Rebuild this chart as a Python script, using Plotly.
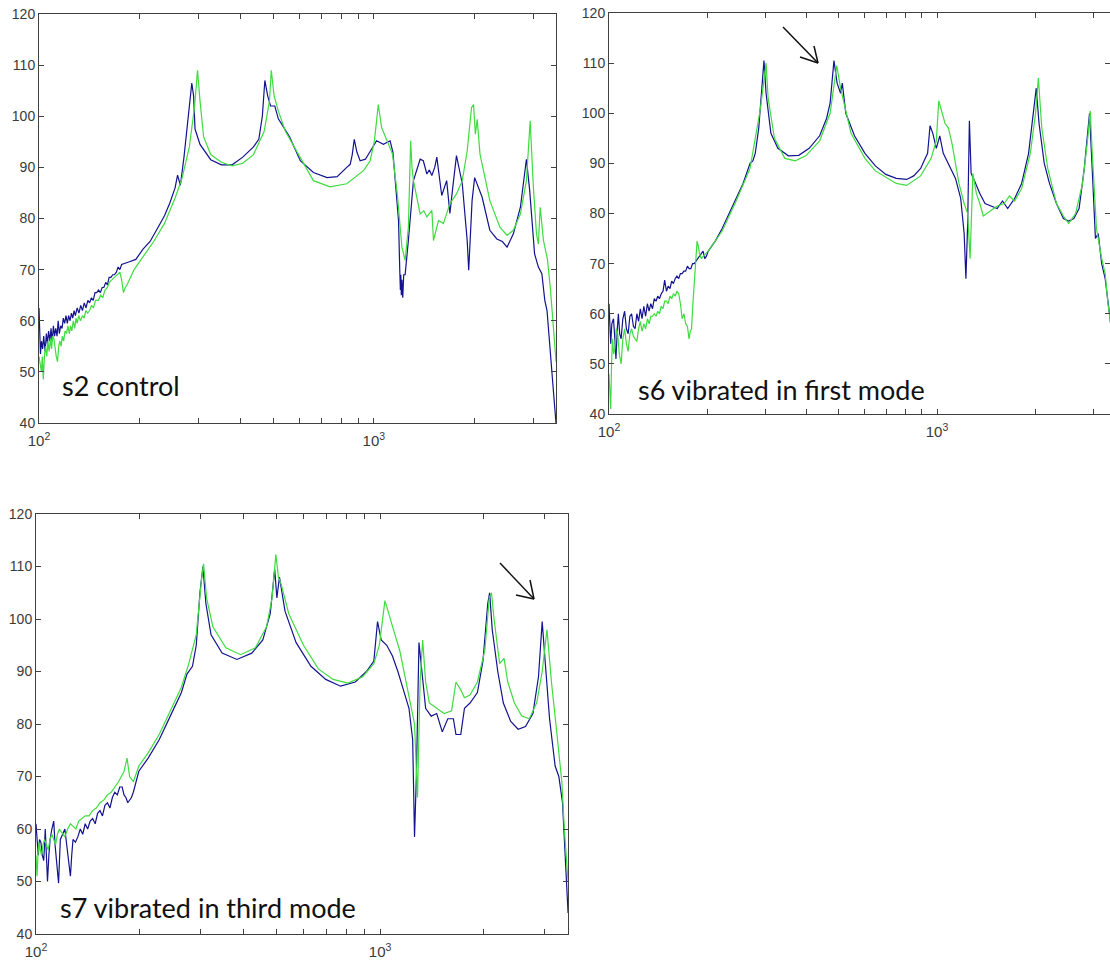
import plotly.graph_objects as go

# ---------------- data (frequency Hz, level dB) ----------------
# s2 control
a_blue_f = [100, 100.5, 101, 101.7, 102.5, 103.3, 104.3, 105.2, 106, 106.8, 107.8, 108.6, 109.5, 110.4,
            111.3, 112.2, 113.2, 114.1, 115, 116.1, 117.2, 118.2, 119.3, 120.4, 121.5, 122.6, 123.8, 125,
            126.1, 127.3, 128.4, 130, 131.6, 133.2, 134.8, 136.5, 138.2, 139.9, 141.6, 143.4, 145.2, 147,
            148.7, 150.6, 152.5, 154.4, 156.2, 158.2, 160.1, 162, 164, 166, 168, 170.2, 172.3, 174.4,
            176.5, 185.4, 194.6, 204.5, 214.7, 225.5, 236.8, 245.7, 254.9, 259.3,
            264.4, 271, 277.7, 282.5, 286, 289.5, 292.4, 302.6, 325.7, 350.5, 377.3, 406.1, 437, 453.4,
            464.5, 472.6, 481.9, 491.5, 506, 518.6, 560, 603, 660, 725, 777, 830, 850, 862, 874, 890, 910,
            944, 975, 1019, 1068, 1118, 1140, 1160, 1185, 1195, 1200, 1204, 1208, 1213, 1220, 1228, 1240,
            1268, 1313, 1375, 1405, 1440, 1465, 1490, 1520, 1542, 1595, 1650, 1687, 1720, 1765, 1837,
            1900, 1920, 1965, 2000, 2105, 2220, 2330, 2420, 2500, 2610, 2740, 2855, 2920, 3020, 3100,
            3175, 3240, 3290, 3375, 3450, 3500]
a_blue_db = [62.5, 55, 53.5, 56, 54.5, 57, 54, 57.5, 55.5, 58, 56, 58.5, 56, 59,
             57, 58.5, 57, 60, 57.5, 59, 58.5, 60.5, 59.5, 61, 59.5, 61, 60, 61.5,
             60.5, 62, 61, 62.5, 61.5, 63, 62, 63.5, 62.5, 64, 63.5, 64.5, 64, 65.5,
             65.5, 66, 65.5, 66.5, 66.5, 67.5, 67, 68.5, 68.5, 69, 69, 69.5, 70.5, 70,
             71, 71.5, 72, 74, 75.5, 78, 80.5, 83, 86, 88.5,
             86.5, 92, 99, 104, 106.5, 104, 97.5, 94.5, 91.5, 90.5, 90.5, 92, 94, 95.5,
             100, 107, 104, 102, 102, 99.5, 96, 91.3, 89, 88, 88.2, 90, 90.6, 92.5, 95.5, 93, 91.3,
             91.6, 93.2, 95.2, 94.5, 95.2, 93, 87.4, 79.6, 70, 66, 69, 65, 68, 64.5, 69, 69,
             75.7, 87.4, 91.6, 91.3, 88.7, 89.5, 88.4, 90, 92, 84.5, 87.4, 81, 86, 92.3, 86.8,
             75.7, 69.9, 83.5, 88, 84.2, 77.7, 76, 75.5, 74.4, 77, 82.2, 91.6, 85.5, 73.1, 70.5,
             69.2, 64, 62, 52, 45, 40]
a_green_f = [100, 100.8, 101.7, 102.3, 103, 103.8, 104.6, 105.5, 106.3, 107.2, 108.2, 109, 109.9, 110.8,
             111.7, 112.6, 113.6, 114.5, 115.4, 116.4, 117.4, 118.5, 119.6, 120.8, 122, 123.2, 124.3,
             125.3, 126.6, 127.8, 129, 130, 131.5, 133, 134.8, 136.4, 138, 139.8, 141.6, 143.5, 145.5,
             147.5, 150.5, 152.8, 155, 157.4, 160, 162.2, 165, 168.1, 171, 174.4, 176.5, 178.7, 181,
             183.1, 192.3, 204.5, 220, 236.8, 254.9, 267.7, 281.2, 291.6,
             297.4, 302.6, 310.1, 325.7, 350.5, 377.3, 406.1, 437, 470.2, 487.9, 493.9, 503.7, 518.6,
             544.8, 585, 603, 660, 740, 830, 933, 975, 1004, 1031, 1055, 1095, 1137, 1175, 1213, 1240,
             1268, 1288, 1300, 1313, 1375, 1410, 1440, 1490, 1507, 1560, 1613, 1687, 1765, 1837, 1900,
             1958, 1985, 2010, 2035, 2075, 2220, 2380, 2500, 2610, 2740, 2855, 2930, 2995, 3060, 3100,
             3140, 3210, 3300, 3370, 3450, 3500]
a_green_db = [53, 51, 50, 53, 48.5, 53, 55, 53, 56, 54, 56.5, 54.5, 57, 56.5,
              54, 53, 52, 55, 56, 55, 57, 56, 58, 57.5, 59, 57.5, 59,
              58, 60, 58.5, 60.5, 59.5, 61, 60, 61, 60.5, 62, 61.5, 62, 63, 62.5,
              64, 64, 65, 64.5, 66, 66.5, 67.5, 68, 68.5, 69, 69.5, 68, 65.5, 66.5,
              67, 70, 72.5, 75.5, 79, 84, 88, 94, 102,
              109, 103, 96, 92.5, 91, 90.3, 90.8, 92.5, 97, 103, 109, 104, 101,
              97, 93.5, 92, 87.4, 86.2, 86.8, 89.4, 91.3, 95.2, 102.3, 97.8, 95.2, 92.6, 84.8, 74.4, 71.8,
              78.3, 95.2, 90, 87.4, 80.9, 81.5, 80.3, 81.6, 75.7, 79.6, 79, 82.9, 84.8, 87.4, 93.2,
              101.7, 102.3, 96.5, 99.4, 92.6, 83.5, 78.3, 76.7, 77.7, 80.9, 87.4, 99.1, 86.1, 77, 75,
              82.2, 75.7, 72, 66, 58, 52]

# s6 vibrated in first mode
b_blue_f = [100, 100.6, 101.2, 102, 103.2, 104.2, 105, 106, 106.8, 107.8, 108.9, 110.2, 111.6, 113,
            114.4, 115.8, 117.2, 118.7, 120.1, 121.6, 123.1, 124.6, 126.1, 127.7, 129.3, 130.9, 132.5,
            134.1, 135.7, 137.4, 139.1, 140.8, 142.5, 144.3, 146.1, 147.8, 149.7, 151.5, 153.4, 155.3,
            157.2, 159.1, 161.1, 163.1, 165.1, 167.1, 169.1, 171.3, 173.4, 175.5, 177.6, 179.8, 182,
            184.2, 186.5, 188.8, 191.1, 193.5, 195.8, 198.2, 200.7, 210.8, 221.3, 232.4,
            244.1, 256.3, 269.2, 274.5, 279.2, 286.1, 293.2, 296.8, 301.2, 305.6, 311.6, 327.3, 352.2,
            378.9, 407.7, 438.8, 460.8, 472.2, 485.1, 495.9, 508.2, 514.4, 527.2, 560.3, 603, 648.8,
            698.3, 751.2, 808.3, 849, 891.5, 913.5, 936.2, 952.3, 971.1, 995.2, 1019.8, 1045, 1084,
            1138.5, 1181, 1210, 1225, 1240.2, 1255.3, 1270.7, 1302, 1350.7, 1401, 1453.4, 1526.4,
            1583.4, 1642.5, 1725, 1811.4, 1902, 1973.1, 2007, 2046.6, 2123.2, 2202.6, 2312.8, 2429.1,
            2519.7, 2613.7, 2711.1, 2812.3, 2882, 2917.4, 2967.5, 3041, 3101.1, 3177.7, 3256.5, 3320.9,
            3400, 3500]
b_blue_db = [62, 57, 54, 58, 59, 55, 51, 57, 60, 56, 55, 59, 60.5, 57,
             56, 59.5, 60, 57.5, 57, 60, 58.5, 61, 59, 61.5, 59.5, 62, 60.5,
             62, 61, 63, 62.5, 63.5, 63, 64, 64.5, 66.7, 64.5, 65.5, 65, 66.5,
             66, 67, 67.5, 67, 68, 68, 68.5, 68.5, 69.5, 69, 69, 70, 70,
             70.5, 71, 71.5, 72, 72.5, 71, 71.5, 72.5, 74.5, 77, 80,
             83, 86, 90, 90.5, 92, 97, 106, 110.5, 104, 100, 96, 93, 91.5,
             91.6, 93, 95.5, 99, 102, 110.5, 106, 104, 106, 100, 95.5, 92, 89.5,
             87.8, 87, 86.8, 87.5, 89, 90.5, 92, 97.5, 96, 93, 95.5, 92, 90,
             87, 83, 76, 67, 78, 98.5, 88, 86.5, 84, 82, 81.5, 81,
             82.5, 81, 83, 86, 92, 101, 105, 98, 90, 86, 82, 79,
             78.5, 79, 81, 89, 96, 100, 90, 75, 76, 70, 67, 62,
             57, 52]
b_green_f = [100, 100.6, 101.2, 101.8, 102.5, 103.3, 104.2, 105.2, 106.3, 107.5, 108.9, 110.2, 111.6,
             113, 114.4, 115.8, 117.2, 118.7, 120.1, 121.6, 123.1, 124.6, 126.1, 127.7, 129.3, 131,
             132.6, 134.1, 135.7, 137.4, 139.1, 140.8, 142.5, 144.3, 146.1, 147.8, 149.7, 151.5, 153.4,
             155.3, 157.2, 159.1, 161.1, 163.1, 165.1, 167.1, 169.2, 171.3, 173.4, 175.4, 176.9, 178.5,
             180.2, 182, 183.8, 185.6, 187.2, 188.8, 191, 193.5, 197, 200.7,
             221.3, 244.1, 269.2, 289.6, 301.2, 305.6, 319.4, 343.6, 369.8, 397.9, 438.8, 472.2, 494.7,
             508.2, 546.8, 603, 648.8, 751.2, 808.3, 891.5, 959.4, 995.2, 1012.3, 1032.3, 1057.8, 1084,
             1110.8, 1166.6, 1210, 1240.2, 1261.6, 1286.5, 1318.3, 1350.7, 1384, 1453.4, 1526.4, 1602.9,
             1662.7, 1725, 1811.4, 1925.5, 1997.4, 2037.1, 2087.3, 2175.8, 2312.8, 2429.1, 2519.7,
             2645.8, 2778, 2882, 2931.7, 2975, 3063.6, 3177.7, 3256.5, 3320.9, 3400, 3500]
b_green_db = [48, 45, 41, 50, 55, 52, 53, 57, 56, 52, 50, 55, 57,
              54, 52.5, 56, 57, 55.5, 55, 54.5, 57, 58.5, 56.5, 58, 57, 59,
              58, 59.5, 59.5, 60, 59.5, 60.5, 60, 61.5, 61, 62.5, 62.5, 62, 63.5,
              63, 64, 63.5, 64.5, 64, 62, 59, 60, 58, 57.5, 55, 56.5, 57,
              62, 67, 72, 74.5, 73.5, 72, 71, 71.5, 72, 72.5,
              76.5, 82.5, 89, 101, 110, 103, 95, 91, 90.5, 91.5, 94.5, 100, 109.5,
              105, 96, 91, 88.5, 86, 85.6, 87.5, 91, 94.5, 102.5, 100.5, 98, 97,
              94, 86, 82, 80, 71, 88, 84, 82, 79.5, 80.5, 81.5, 82,
              83.5, 82.5, 85, 92, 100, 107, 97, 89, 82, 79.5, 78,
              80, 86, 95, 100.5, 92, 77, 71, 68, 62, 57, 53]

# s7 vibrated in third mode
c_blue_f = [100, 100.7, 101.5, 102.4, 103.3, 104.3, 105.3, 105.9, 106.4, 107.2, 108, 109, 109.9, 111.2,
            112.6, 113.6, 114.6, 115.5, 116.3, 117, 117.7, 119.5, 121.3, 122.3, 123.4, 124.6, 125.9,
            127, 128.1, 130.2, 132.3, 134.5, 136.7, 139, 141.3, 143.7, 146.1, 148.6, 151, 153.5, 156,
            158.6, 161.3, 164, 166.7, 169.4, 172.3, 175.1, 178, 180.2, 182.5, 184.8, 187.1, 189.4,
            191.8, 199, 211.8, 228,
            245.6, 264.6, 274.6, 284.9, 292.2, 299.5, 305.5, 311.6, 322.6, 347.4, 383.6, 423.7, 456.2,
            479.4, 493.9, 501.2, 509.9, 529.2, 570.1, 629.5, 695.1, 767.5, 847.2, 912.6, 958.9, 982.9,
            1007.4, 1045.6, 1085.3, 1126.3, 1168.8, 1213, 1243.4, 1258.9, 1274.6, 1296.9, 1322.8, 1356,
            1407.3, 1460.5, 1515.7, 1573.1, 1632.6, 1661.1, 1715.5, 1758.6, 1825, 1917.6, 1990, 2055.4,
            2081.1, 2117.4, 2197.6, 2280.8, 2396.5, 2518, 2645.7, 2780, 2885.4, 2958.1, 3008.9, 3107.6,
            3225.4, 3306.3, 3389, 3431.5, 3474.4, 3517.2]
c_blue_db = [61, 57, 55, 58, 57.5, 55, 54, 57, 60, 55, 50, 55, 58, 60,
             61.5, 57, 54, 52, 49.7, 54, 58, 59, 60, 58, 56, 53, 51,
             55, 58, 57.5, 58.5, 60, 59, 61, 60, 61.5, 62, 61, 63, 63.5, 62.5,
             64.5, 65, 64, 66, 67, 66.5, 68, 68, 66.5, 66, 65, 65.5, 66,
             67, 71, 73.5, 77,
             81.5, 86, 89.5, 91, 95, 105, 110, 103, 97, 93.5, 92.3, 93.5, 96,
             101, 109.5, 104, 108, 101.5, 95.5, 91, 88.5, 87.2, 88, 90, 92, 99.5,
             96, 95, 93, 90, 86.5, 83, 77, 58.5, 70, 95.5, 90, 83,
             81.5, 82, 78.5, 81, 81, 78, 78, 83, 84, 86, 92, 103,
             105, 98, 90, 84, 80.5, 79, 79.5, 82, 89, 99.5, 93, 81,
             72, 70, 65, 57, 50, 44]
c_green_f = [100, 100.7, 101.3, 102, 102.9, 103.8, 104.8, 105.9, 107.2, 108.5, 109.8, 111.2, 112.6, 114,
             115.4, 116.9, 118.3, 119.8, 121.3, 123.6, 125.9, 128.2, 130.6, 133.1, 135.6, 139, 142.5,
             146, 149.7, 153.5, 157.3, 161.3, 165.3, 169.5, 173.7, 177, 180.3, 183.9, 187.1, 189.4,
             191.8, 199, 211.8, 228, 245.6, 264.6, 278,
             292.2, 303.2, 306.9, 313.1, 326.6, 356.2, 393.2, 434.1, 467.7, 485.3, 497.7, 506.3, 516.4,
             542.6, 599, 661.3, 730.1, 806.2, 890.1, 958.9, 995, 1032.8, 1058.5, 1098.9, 1140.3, 1183.4,
             1228.2, 1258.9, 1284.2, 1306.6, 1329.6, 1356, 1390, 1460.5, 1534.8, 1613.3, 1661.1, 1715.5,
             1758.6, 1825, 1917.6, 2015, 2075.8, 2107, 2143.6, 2225, 2292, 2349.6, 2456.6, 2581.3,
             2712.5, 2850.2, 2958.1, 3054, 3147, 3266, 3373, 3431.5, 3474.4, 3517.2]
c_green_db = [55, 51, 55, 57.5, 56, 55, 57, 58, 57, 56, 58, 59, 58, 57,
              59, 60, 59.5, 59, 58.5, 60, 61, 60.5, 60, 61.5, 62, 62.5, 62.5,
              63.5, 64, 65, 65.5, 66.5, 67, 68, 69, 70, 71, 73.5, 70, 69.5,
              69, 72, 74.5, 78, 82.5, 87, 91.5,
              97, 108, 110.5, 104, 98.5, 94.5, 93.2, 94.5, 98.5, 104, 112.3, 108, 106.5,
              101, 95, 90.5, 88.5, 87.8, 89, 91.5, 95, 103.5, 101, 97.5, 94, 89,
              84, 80, 66, 88, 96, 88, 84, 83, 82, 82.5, 88, 86.5,
              85, 85.5, 88, 94, 104, 105, 100, 91.5, 92.5, 88, 84, 81.5,
              81, 84, 90, 98, 88, 78, 69, 60, 54, 50]

y_ticks = [40, 50, 60, 70, 80, 90, 100, 110, 120]
x_ticks = [100, 200, 300, 400, 500, 600, 700, 800, 900, 1000, 2000, 3000]
x_tick_text = ["10<sup>2</sup>", "", "", "", "", "", "", "", "", "10<sup>3</sup>", "", ""]
labels = ["s2 control", "s6 vibrated in first mode", "s7 vibrated in third mode"]

BLUE = "#13138f"
GREEN = "#3fdc3f"
W, H = 1110, 962

fig = go.Figure()

panels = [
    (a_blue_f, a_blue_db, a_green_f, a_green_db, "x", "y"),
    (b_blue_f, b_blue_db, b_green_f, b_green_db, "x2", "y2"),
    (c_blue_f, c_blue_db, c_green_f, c_green_db, "x3", "y3"),
]
for bf, bd, gf, gd, xa, ya in panels:
    fig.add_trace(go.Scatter(x=bf, y=bd, mode="lines", line=dict(color=BLUE, width=1.2),
                             xaxis=xa, yaxis=ya, showlegend=False, hoverinfo="skip"))
    fig.add_trace(go.Scatter(x=gf, y=gd, mode="lines", line=dict(color=GREEN, width=1.2),
                             xaxis=xa, yaxis=ya, showlegend=False, hoverinfo="skip"))

def px_x(v):
    return v / W

def px_y(v):
    return 1 - v / H

# pixel boxes: (left, right, top, bottom)
boxes = [(39, 556, 14, 423), (609, 1110, 13, 414), (36, 568, 514, 934)]
xranges = [[2, 3.544], [2, 2 + (1110 - 609) / 328], [2, 3.546]]

tickfont = dict(family="Liberation Sans, Arial, sans-serif", size=14, color="#3a3a3a")
xtickfont = dict(family="Liberation Sans, Arial, sans-serif", size=15, color="#3a3a3a")
axis_common = dict(showgrid=False, zeroline=False, showline=True, linecolor="#404040", linewidth=1,
                   mirror="ticks", ticks="inside", ticklen=5, tickcolor="#404040",
                   automargin=False)

for i, (l, r, t, b) in enumerate(boxes):
    sx = "" if i == 0 else str(i + 1)
    fig.update_layout(**{
        "xaxis" + sx: dict(axis_common, type="log", range=xranges[i], tickfont=xtickfont,
                           ticklabelstandoff=4,
                           domain=[px_x(l), min(1.0, px_x(r))], anchor="y" + sx,
                           tickmode="array", tickvals=x_ticks, ticktext=x_tick_text),
        "yaxis" + sx: dict(axis_common, range=[40, 120], domain=[px_y(b), px_y(t)], tickfont=tickfont,
                           anchor="x" + sx, tickmode="array", tickvals=y_ticks),
    })

label_pos = [(60, 385), (636, 389), (58, 907)]
for txt, (lx, ly) in zip(labels, label_pos):
    fig.add_annotation(text=txt, x=px_x(lx), y=px_y(ly), xref="paper", yref="paper",
                       xanchor="left", yanchor="middle", showarrow=False,
                       font=dict(family="Lato, Open Sans, sans-serif", size=27, color="#111111"))

# open-V arrows (pixel geometry)
arrows = [((783, 27), (818, 63), (800, 57), (814, 46)),
          ((500, 563), (534, 599), (516, 595), (530, 580))]
for tail, head, arm1, arm2 in arrows:
    for p, q in ((tail, head), (arm1, head), (arm2, head)):
        fig.add_shape(type="line", xref="paper", yref="paper",
                      x0=px_x(p[0]), y0=px_y(p[1]), x1=px_x(q[0]), y1=px_y(q[1]),
                      line=dict(color="#111111", width=1.5))

fig.update_layout(width=W, height=H, margin=dict(l=0, r=0, t=0, b=0),
                  paper_bgcolor="white", plot_bgcolor="white")

fig.write_html("out.html")
